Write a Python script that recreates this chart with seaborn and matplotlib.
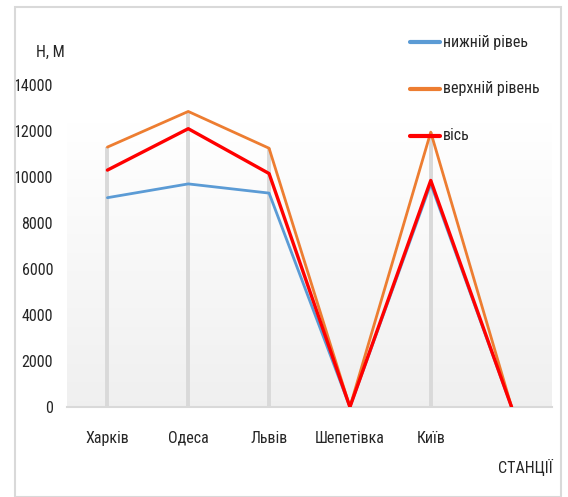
import numpy as np
import pandas as pd
import matplotlib
matplotlib.use("Agg")
import matplotlib.pyplot as plt
import seaborn as sns
from matplotlib.patches import Rectangle

stations = ["Харків", "Одеса", "Львів", "Шепетівка", "Київ", ""]
lower_level = [9100, 9700, 9300, 0, 9700, 0]
upper_level = [11300, 12850, 11250, 0, 11950, 0]
axis_level = [10300, 12100, 10150, 0, 9850, 0]
series_names = ["нижній рівеь", "верхній рівень", "вісь"]
y_ticks = [0, 2000, 4000, 6000, 8000, 10000, 12000, 14000]

sns.set_theme(style="white")
plt.rcParams["font.family"] = ["Roboto Condensed", "DejaVu Sans"]
FS = 11.5
TXT = "#262626"

W, H = 568, 497
fig = plt.figure(figsize=(W / 100, H / 100), dpi=100)
fig.patch.set_facecolor("white")
fig.patches.append(Rectangle((15 / W, 0), 546 / W, 1 - 7 / H, transform=fig.transFigure,
                             fill=False, edgecolor="#d9d9d9", linewidth=1.5))

ax = fig.add_axes([67 / W, 1 - 407 / H, 485 / W, 322 / H])

x = np.arange(len(stations))
df = pd.DataFrame({
    "x": np.tile(x, 3),
    "value": lower_level + upper_level + axis_level,
    "series": np.repeat(series_names, len(stations)),
})

# soft vertical gradient behind the plot
grad = np.concatenate([np.ones(30), np.linspace(1.0, 0.94, 226)]).reshape(-1, 1)
ax.imshow(np.dstack([grad, grad, grad]), extent=(-0.5, 5.5, 0, 14000), aspect="auto",
          origin="upper", zorder=0)

# drop lines from the baseline to the highest series value
peaks = np.max([lower_level, upper_level, axis_level], axis=0)
ax.vlines(x, 0, peaks, color="#d9d9d9", linewidth=2.8, zorder=1)

palette = {"нижній рівеь": "#5b9bd5", "верхній рівень": "#ed7d31", "вісь": "#ff0000"}
sizes = {"нижній рівеь": 2.0, "верхній рівень": 2.0, "вісь": 2.4}
sns.lineplot(data=df, x="x", y="value", hue="series", hue_order=series_names,
             palette=palette, size="series", sizes=sizes, sort=False, ax=ax,
             legend=False, zorder=3)

ax.set_xlim(-0.5, 5.5)
ax.set_ylim(0, 14000)
ax.set_xticks(x)
ax.set_xticklabels(stations)
ax.set_yticks(y_ticks)
ax.set_yticklabels([str(v) for v in y_ticks])
ax.tick_params(axis="both", length=0, labelsize=FS, colors=TXT)
ax.tick_params(axis="x", pad=17)
ax.tick_params(axis="y", pad=10)
ax.set_xlabel("")
ax.set_ylabel("")
for side in ["left", "right", "top"]:
    ax.spines[side].set_visible(False)
ax.spines["bottom"].set_color("#d9d9d9")
ax.spines["bottom"].set_linewidth(1.5)
ax.grid(False)

fig.text(50 / W, 1 - 52 / H, "H, M", ha="center", va="center", fontsize=FS, color=TXT)
fig.text(553 / W, 1 - 467 / H, "СТАНЦІЇ", ha="right", va="center", fontsize=FS, color=TXT)

# legend drawn at fixed figure positions
for i, name in enumerate(series_names):
    yy = 1 - (42 + 47 * i) / H
    fig.add_artist(plt.Line2D([410 / W, 440 / W], [yy, yy], transform=fig.transFigure,
                              color=palette[name], linewidth=3))
    fig.text(443 / W, yy, name, ha="left", va="center", fontsize=FS, color=TXT)

fig.savefig("out.png", dpi=100)
